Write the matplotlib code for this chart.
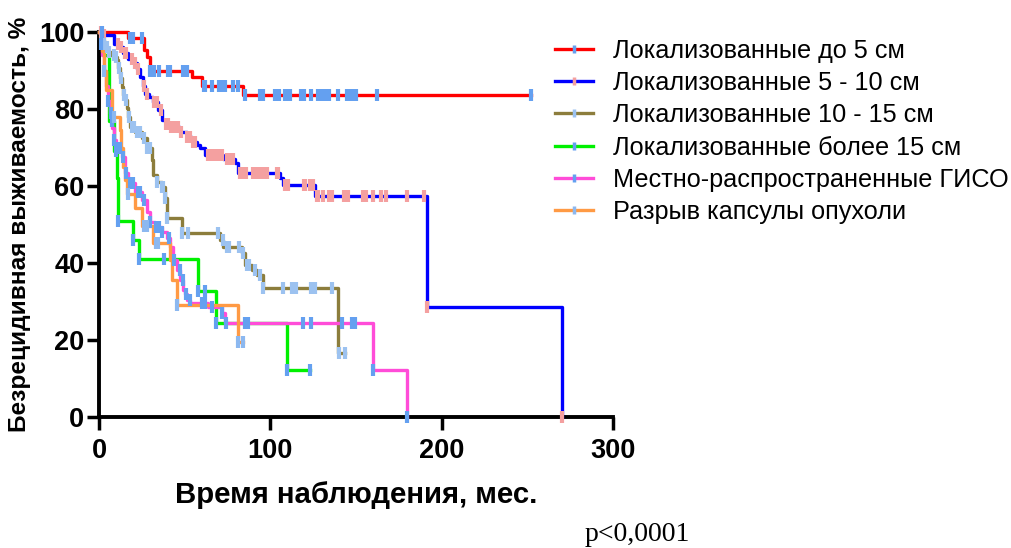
import numpy as np
import matplotlib.pyplot as plt
from matplotlib.lines import Line2D

plt.rcParams['font.family'] = ['Liberation Sans', 'DejaVu Sans']

# step curves: event times, survival (%) after each step, last follow-up time
red_t = [0, 17, 26, 28, 29.5, 54, 60, 84]
red_s = [100, 98.4, 95.3, 93.4, 90, 88.2, 86.1, 83.7]
red_end = 252
red_cens = [18, 20, 25, 30, 32, 35, 40, 41.5, 49, 51.5, 61, 62, 66, 70, 71.5, 73.5,
            78, 81, 85, 94, 96, 103, 105, 108.5, 110.5, 111.5, 118, 119.5, 124, 128,
            130, 132, 134, 139.5, 144.5, 146.5, 148.5, 150, 162, 252]

blue_t = [0, 2, 9, 12, 14, 17, 20, 22, 24, 25.5, 27, 29, 31.7, 34.6, 36.6, 39, 41.4,
          47.3, 51.2, 54, 57, 59, 61.9, 72.6, 79.4, 81.3, 105.7, 107.6, 126, 191.5, 270]
blue_s = [100, 99.2, 97, 96, 94.5, 93, 92, 90.5, 88.4, 86, 84, 83, 81.9, 79.7, 77.1, 76,
          75.4, 74.1, 72.8, 71.5, 70.6, 69.8, 68, 66.9, 65.9, 63.5, 62, 60.3, 57.4, 28.5, 0]
blue_end = 270
blue_cens = [1, 3, 11, 13, 15, 16, 19, 21, 23, 26.5, 28, 32, 34, 36, 39, 40.5, 42, 44, 46,
             48, 51.5, 53, 55, 56, 63.5, 65, 66.5, 67.5, 69.5, 70.5, 72, 75, 76, 77, 78.5,
             82.5, 83.5, 84.5, 86, 90, 92, 94, 96, 98, 104, 104.5, 108.5, 109.5, 110.5,
             119.5, 120.5, 123, 124, 125, 127, 128, 131, 134, 136, 143, 145.5, 154, 156,
             160, 164.5, 167.5, 179.5, 189.5, 191.5, 270]

olive_t = [0, 1, 2, 3, 4, 5.5, 7, 9, 10.3, 11.3, 12, 13.2, 14.2, 15.2, 16.2, 17, 18.1,
           21, 24.9, 27.8, 30.8, 31.7, 33.7, 36.6, 38.5, 39.5, 48.3, 70.6, 72.6, 83.3,
           85.2, 89.1, 92, 95.9, 139.7]
olive_s = [100, 99, 98, 97, 96, 94.9, 94, 93.5, 92.7, 90.6, 88, 85.8, 83.6, 82.4, 80.2,
           78, 75.4, 74.1, 72.4, 69.8, 66.8, 62.9, 61.1, 59.8, 56.8, 51.6, 47.9, 46.1,
           44.2, 42.5, 39.5, 38.2, 36.9, 33.6, 16.7]
olive_end = 143.5
olive_cens = [1.5, 3, 4.5, 6, 8.5, 10, 11.5, 13, 14.5, 16, 17.5, 19, 20.5, 22, 24, 26,
              28, 30, 33.7, 36.6, 37.5, 38.5, 39.5, 48.3, 52, 69.6, 72.5, 74.5, 76, 82,
              84.2, 86.2, 87.7, 91, 94, 96, 107.6, 112.5, 113.4, 115, 124, 126, 135.8,
              140, 143.5]

green_t = [0, 2.5, 6, 8.8, 10.5, 11.3, 20, 23.5, 58, 68.3, 110]
green_s = [100, 94, 77, 69, 62, 51, 46, 41, 32.8, 24.3, 12.2]
green_end = 123
green_cens = [2, 7.5, 10, 11.3, 20, 23.5, 38, 58, 62, 68.3, 85, 87, 110, 123]

magenta_t = [0, 1, 2, 3, 4, 5, 6.5, 7.5, 8.5, 10, 13.2, 15.2, 17.1, 21, 24.9, 27.8,
             29.8, 32.7, 36.6, 39.5, 41.4, 43.4, 45.4, 47.3, 49.2, 50, 51.2, 53.1,
             63.8, 71.6, 73.6, 160, 179.6]
magenta_s = [100, 97, 94, 90, 86, 82, 79, 75, 72, 70, 67.6, 63.3, 60.7, 58.5, 56.4,
             53.3, 50.7, 49.4, 48.1, 46.4, 44.2, 40.8, 38.2, 35.6, 33, 32, 30.4, 29.7,
             28.6, 27, 24.5, 12.2, 0]
magenta_end = 180
magenta_cens = [1, 3, 5, 7, 9, 11, 12.5, 14, 15.5, 18, 20, 22.5, 24, 26, 30, 33, 35, 37,
                41, 44, 47, 49, 51, 53, 60, 62, 66, 72, 74, 119.3, 124, 141.6, 147.5,
                149.4, 160, 180]

orange_t = [0, 2, 3, 4, 7.6, 12.3, 13, 14, 15, 16.5, 21, 25, 31.7, 41.4, 42.4, 45.7, 81.3]
orange_s = [100, 95, 90, 85, 78, 74.5, 70, 65, 61.5, 58, 54.2, 49.6, 45.1, 40.8, 35.6,
            29.1, 19.6]
orange_end = 84.2
orange_cens = [3, 9, 17, 26, 28, 33, 34.5, 45.7, 81.3, 84]

labels = ['Локализованные до 5 см', 'Локализованные 5 - 10 см',
          'Локализованные 10 - 15 см', 'Локализованные более 15 см',
          'Местно-распространенные ГИСО', 'Разрыв капсулы опухоли']

LB = '#64a0f0'
PK = '#f4a0a0'
series = [
    (red_t, red_s, red_end, red_cens, '#ff0000', LB),
    (blue_t, blue_s, blue_end, blue_cens, '#0000ff', PK),
    (olive_t, olive_s, olive_end, olive_cens, '#8c7d3c', '#9cc2f0'),
    (green_t, green_s, green_end, green_cens, '#00f000', LB),
    (magenta_t, magenta_s, magenta_end, magenta_cens, '#ff4cd8', LB),
    (orange_t, orange_s, orange_end, orange_cens, '#ff9a44', '#8cb8f0'),
]
draw_order = [0, 1, 2, 5, 4, 3]

fig = plt.figure(figsize=(10.12, 5.48), dpi=100)
ax = fig.add_axes([0.0978, 0.239, 0.508, 0.7026])

for i in draw_order:
    t, s, end, cens, col, mcol = series[i]
    x = np.array(t + [end], dtype=float)
    y = np.array(s + [s[-1]], dtype=float)
    ax.step(x, y, where='post', color=col, lw=2.4, clip_on=False, zorder=3 + i * 0.1)
    tt = np.array(t, dtype=float)
    sv = np.array(s, dtype=float)
    idx = np.searchsorted(tt, cens, side='right') - 1
    ax.plot(cens, sv[idx], ls='none', marker='|', ms=8, mew=3, color=mcol,
            clip_on=False, zorder=4 + i * 0.1)

handles = [Line2D([0], [0], color=c, lw=2.4, marker='|', ms=6, mew=2.5, mec=m,
                  markevery=[1])
           for (_, _, _, _, c, m) in series]
for h in handles:
    h.set_data([0, 0.5, 1], [0, 0, 0])
leg = fig.legend(handles, labels, loc='upper left', bbox_to_anchor=(0.5385, 0.948),
                 frameon=False, fontsize=18.2, handlelength=1.5, handletextpad=0.8,
                 labelspacing=0.33, borderaxespad=0)

ax.set_xlim(0, 300)
ax.set_ylim(0, 100)
ax.set_xticks([0, 100, 200, 300])
ax.set_yticks([0, 20, 40, 60, 80, 100])
for sp in ['top', 'right']:
    ax.spines[sp].set_visible(False)
for sp in ['left', 'bottom']:
    ax.spines[sp].set_linewidth(2.8)
ax.tick_params(length=9, width=2.5, labelsize=19.5)
ax.tick_params(axis='x', pad=6)
ax.tick_params(axis='y', pad=1.5)
for lab in ax.get_xticklabels() + ax.get_yticklabels():
    lab.set_fontweight('bold')

ax.set_xlabel('Время наблюдения, мес.', fontsize=21.2, fontweight='bold', labelpad=12)
ax.set_ylabel('Безрецидивная выживаемость, %', fontsize=17.6, fontweight='bold',
              labelpad=6)
fig.text(0.578, 0.013, 'p<0,0001', fontsize=20, family='Liberation Serif')

fig.savefig('out.png', dpi=100)
